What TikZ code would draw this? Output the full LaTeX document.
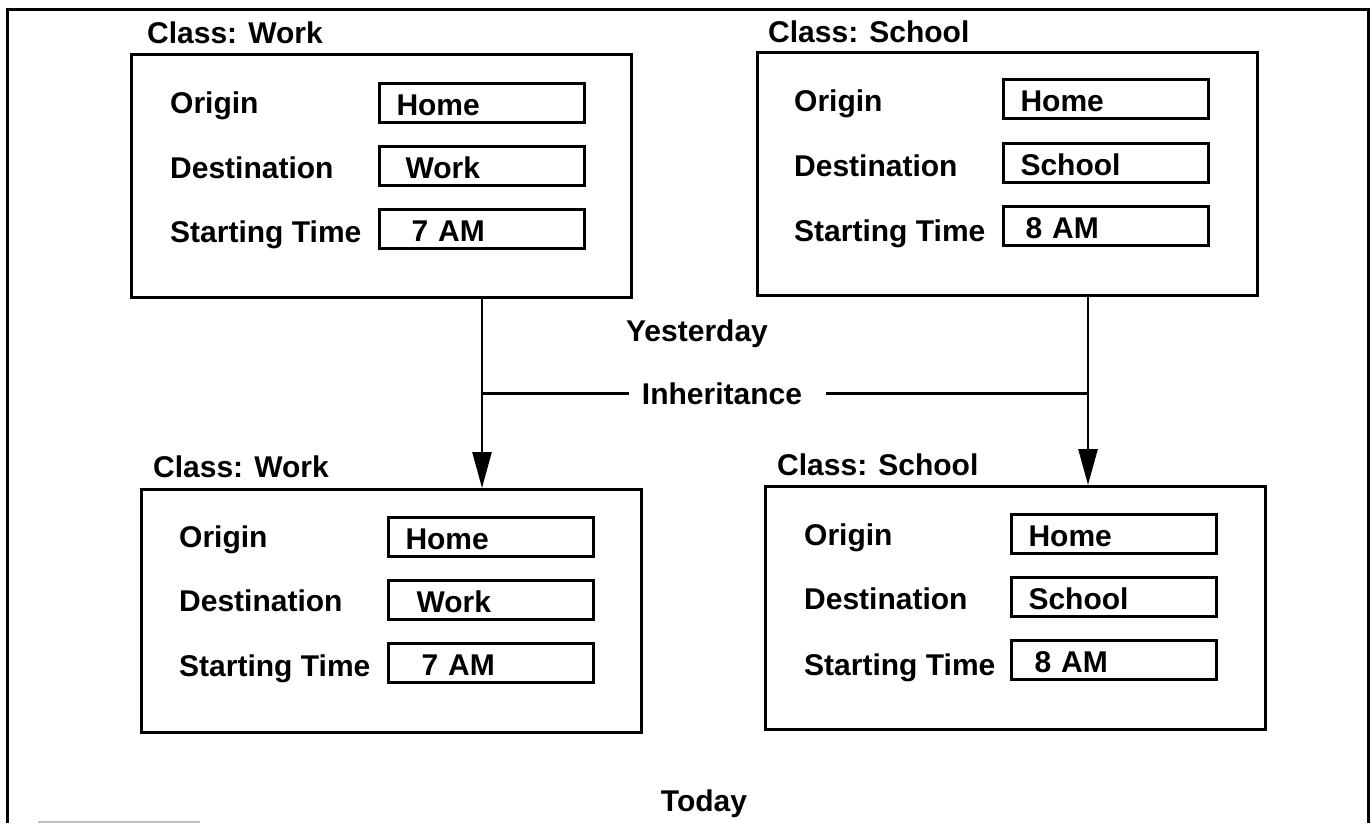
\documentclass[tikz,border=0pt]{standalone}
\usepackage{fontspec}
\setmainfont{Liberation Sans}
\usetikzlibrary{arrows.meta}

\begin{document}
\begin{tikzpicture}[x=1pt, y=-1pt,
  font=\fontsize{30}{36}\selectfont\bfseries,
  classbox/.style={draw, line width=3pt, minimum width=500pt, minimum height=243pt, inner sep=0pt, anchor=north west},
  valbox/.style={draw, line width=3pt, anchor=west, minimum height=39pt, text width=171pt, inner xsep=17pt, inner ysep=0pt, text height=24pt, text depth=0pt, align=left},
  lbl/.style={anchor=base west, inner sep=0pt},
  link/.style={line width=2.6pt},
  inharrow/.style={link, -{Triangle[length=36pt,width=19pt]}}]

\useasboundingbox (0,0) rectangle (1372,823);

% Draw the page frame (open at the bottom)
\draw [line width=3pt] (7,823) -- (7,9) -- (1368,9) -- (1368,823);
\draw [gray!50, line width=1.5pt] (38,822) -- (200,822);

% Yesterday, class Work
\begin{scope} [shift={(130,53)}]

\node[classbox] (yw) at (0,0) {};
\node[lbl] (yw-cls) at (17,-10) {Class: Work};

\node[lbl] (yw-orig) at (40,60) {Origin};
\node[lbl] (yw-dest) at (40,125) {Destination};
\node[lbl] (yw-time) at (40,189) {Starting Time};

\node[valbox] (yw-origv) at (248,50) {Home};
\node[valbox] (yw-destv) at (248,113) {\hspace*{9pt}Work};
\node[valbox] (yw-timev) at (248,176) {\hspace*{15pt}7 AM};

\end{scope}

% Yesterday, class School
\begin{scope} [shift={(756,51)}]

\node[classbox] (ys) at (0,0) {};
\node[lbl] (ys-cls) at (12,-9) {Class: School};

\node[lbl] (ys-orig) at (38,60) {Origin};
\node[lbl] (ys-dest) at (38,125) {Destination};
\node[lbl] (ys-time) at (38,190) {Starting Time};

\node[valbox] (ys-origv) at (246,48) {Home};
\node[valbox] (ys-destv) at (246,112) {School};
\node[valbox] (ys-timev) at (246,175) {\hspace*{5pt}8 AM};

\end{scope}

% Today, class Work
\begin{scope} [shift={(140,488)}]

\node[classbox] (tw) at (0,0) {};
\node[lbl] (tw-cls) at (13,-11) {Class: Work};

\node[lbl] (tw-orig) at (39,59) {Origin};
\node[lbl] (tw-dest) at (39,123) {Destination};
\node[lbl] (tw-time) at (39,188) {Starting Time};

\node[valbox] (tw-origv) at (247,49) {Home};
\node[valbox] (tw-destv) at (247,112) {\hspace*{11pt}Work};
\node[valbox] (tw-timev) at (247,175) {\hspace*{16pt}7 AM};

\end{scope}

% Today, class School
\begin{scope} [shift={(764,485)}]

\node[classbox] (ts) at (0,0) {};
\node[lbl] (ts-cls) at (13,-10) {Class: School};

\node[lbl] (ts-orig) at (40,60) {Origin};
\node[lbl] (ts-dest) at (40,124) {Destination};
\node[lbl] (ts-time) at (40,190) {Starting Time};

\node[valbox] (ts-origv) at (246,49) {Home};
\node[valbox] (ts-destv) at (246,112) {School};
\node[valbox] (ts-timev) at (246,175) {\hspace*{6pt}8 AM};

\end{scope}

% Inheritance links
\coordinate (yw-out) at ([xshift=352pt]yw.south west);
\coordinate (ys-out) at ([xshift=332pt]ys.south west);

\draw [inharrow] (yw-out) -- (yw-out |- tw.north);
\draw [inharrow] (ys-out) -- (ys-out |- ts.north);

\node[anchor=base, inner sep=0pt] (yest) at (697,341) {Yesterday};
\node[anchor=base, inner sep=0pt] (inh) at (722,404) {Inheritance};
\node[anchor=base, inner sep=0pt] (today) at (704,811) {Today};

\draw [link] ([xshift=-13pt]inh.west) -- (inh.west -| yw-out);
\draw [link] ([xshift=24pt]inh.east) -- (inh.east -| ys-out);

\end{tikzpicture}
\end{document}
